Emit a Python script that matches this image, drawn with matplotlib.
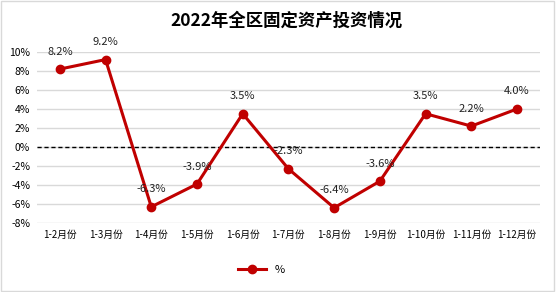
import matplotlib.pyplot as plt
from matplotlib.patches import Rectangle

plt.rcParams['font.family'] = ['Noto Sans CJK SC', 'DejaVu Sans']

months = ["1-2月份", "1-3月份", "1-4月份", "1-5月份", "1-6月份", "1-7月份",
          "1-8月份", "1-9月份", "1-10月份", "1-11月份", "1-12月份"]
growth = [8.2, 9.2, -6.3, -3.9, 3.5, -2.3, -6.4, -3.6, 3.5, 2.2, 4.0]
yticks = [-8, -6, -4, -2, 0, 2, 4, 6, 8, 10]

red = "#C00000"

fig = plt.figure(figsize=(5.56, 2.92), dpi=100)
fig.patches.append(Rectangle((0.002, 0.003), 0.995, 0.993, transform=fig.transFigure,
                             fill=False, edgecolor="#d9d9d9", linewidth=1))
ax = fig.add_axes([0.0665, 0.2363, 0.9045, 0.5857])

x = list(range(len(months)))
ax.plot(x, growth, color=red, linewidth=2.2, marker='o', markersize=6, label="%", zorder=3)
ax.axhline(0, color='black', linestyle=(0, (3, 2)), linewidth=1, zorder=2)

for xi, v in zip(x, growth):
    ax.annotate(f"{v:.1f}%", (xi, v), xytext=(0, 9), textcoords='offset points',
                ha='center', va='bottom', fontsize=8, color='#222222')

ax.set_xlim(-0.5, len(months) - 0.5)
ax.set_ylim(-8, 10)
ax.set_yticks(yticks)
ax.set_yticklabels([f"{t}%" for t in yticks], fontsize=7.5)
ax.set_xticks(x)
ax.set_xticklabels(months, fontsize=7)
ax.tick_params(length=0, pad=5)
ax.grid(axis='y', color='#d9d9d9', linewidth=1)
ax.set_axisbelow(True)
for s in ax.spines.values():
    s.set_visible(False)

fig.text(0.515, 0.93, "2022年全区固定资产投资情况", ha='center', va='center',
         fontsize=12.5, fontweight='bold')
fig.legend(loc='center', bbox_to_anchor=(0.47, 0.075), frameon=False, fontsize=8,
           handlelength=2.5)

fig.savefig("out.png", dpi=100)
